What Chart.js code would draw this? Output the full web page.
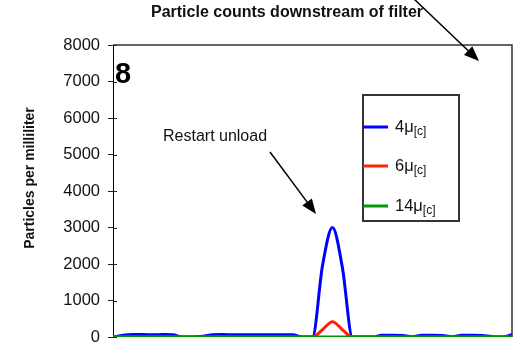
<!DOCTYPE html>
<html>
<head>
<meta charset="utf-8">
<script src="https://cdn.jsdelivr.net/npm/chart.js@4.4.1/dist/chart.umd.min.js"></script>
<style>
  html, body { margin: 0; padding: 0; background: #fff; }
  #wrap { width: 519px; height: 345px; }
</style>
</head>
<body>
<div id="wrap"><canvas id="chart" width="519" height="345"></canvas></div>
<script>
// --- DATA ---
const samples = Array.from({ length: 41 }, (_, i) => i); // sample index along the run
const counts4 = [0, 50, 70, 70, 60, 70, 60, 0, 0, 20,
                 60, 70, 60, 60, 60, 60, 60, 60, 60, 0,
                 0, 1950, 3000, 1900, 0, 0, 0, 50, 50, 40,
                 10, 50, 50, 40, 10, 50, 50, 40, 10, 0, 60];
const counts6 = [0, 0, 0, 0, 0, 0, 0, 0, 0, 0,
                 0, 0, 0, 0, 0, 0, 0, 0, 0, 0,
                 0, 200, 420, 200, 0, 0, 0, 0, 0, 0,
                 0, 0, 0, 0, 0, 0, 0, 0, 0, 0, 0];
const counts14 = samples.map(() => 0);
const seriesNames = ["4\u03bc", "6\u03bc", "14\u03bc"];
const seriesSub = "[c]";
const yTicks = [0, 1000, 2000, 3000, 4000, 5000, 6000, 7000, 8000];

const FONT = "'Liberation Sans', Arial, sans-serif";
const TEXT = "#111";

// --- HELPERS ---
function arrow(ctx, x1, y1, x2, y2) {
  const ang = Math.atan2(y2 - y1, x2 - x1);
  const len = 15, half = 6;
  ctx.save();
  ctx.strokeStyle = "#000";
  ctx.fillStyle = "#000";
  ctx.lineWidth = 1.5;
  ctx.beginPath();
  ctx.moveTo(x1, y1);
  ctx.lineTo(x2 - Math.cos(ang) * len * 0.8, y2 - Math.sin(ang) * len * 0.8);
  ctx.stroke();
  ctx.beginPath();
  ctx.moveTo(x2, y2);
  ctx.lineTo(x2 - Math.cos(ang) * len + Math.sin(ang) * half, y2 - Math.sin(ang) * len - Math.cos(ang) * half);
  ctx.lineTo(x2 - Math.cos(ang) * len - Math.sin(ang) * half, y2 - Math.sin(ang) * len + Math.cos(ang) * half);
  ctx.closePath();
  ctx.fill();
  ctx.restore();
}

// frame, inner ticks, legend box and text notes
const decorations = {
  id: "decorations",
  afterDraw(chart) {
    const { ctx, chartArea: a, scales } = chart;
    ctx.save();

    // top and right frame
    ctx.strokeStyle = "#333";
    ctx.lineWidth = 1.5;
    ctx.beginPath();
    ctx.moveTo(a.left, a.top);
    ctx.lineTo(a.right, a.top);
    ctx.lineTo(a.right, a.bottom);
    ctx.stroke();

    // inner half of the y ticks
    ctx.strokeStyle = "#222";
    ctx.lineWidth = 1;
    yTicks.forEach(v => {
      const y = Math.round(scales.y.getPixelForValue(v)) + 0.5;
      ctx.beginPath();
      ctx.moveTo(a.left, y);
      ctx.lineTo(a.left + 4, y);
      ctx.stroke();
    });

    // title
    ctx.fillStyle = TEXT;
    ctx.font = `bold 16px ${FONT}`;
    ctx.textAlign = "center";
    ctx.textBaseline = "middle";
    ctx.fillText("Particle counts downstream of filter", 287, 13);

    // y axis title
    ctx.save();
    ctx.translate(30, 178);
    ctx.rotate(-Math.PI / 2);
    ctx.font = `bold 14px ${FONT}`;
    ctx.fillText("Particles per milliliter", 0, 0);
    ctx.restore();

    // panel number
    ctx.textAlign = "left";
    ctx.textBaseline = "alphabetic";
    ctx.font = `bold 29px ${FONT}`;
    ctx.fillStyle = "#000";
    ctx.fillText("8", 115, 83);

    // note
    ctx.font = `16px ${FONT}`;
    ctx.fillStyle = TEXT;
    ctx.fillText("Restart unload", 163, 141);

    arrow(ctx, 270, 152, 316, 214);
    arrow(ctx, 413, -2, 479, 61);

    // legend
    const box = { x: 363, y: 95, w: 96, h: 126 };
    ctx.fillStyle = "#fff";
    ctx.fillRect(box.x, box.y, box.w, box.h);
    ctx.strokeStyle = "#333";
    ctx.lineWidth = 2;
    ctx.strokeRect(box.x, box.y, box.w, box.h);
    const rows = [127, 166, 206];
    chart.data.datasets.forEach((ds, i) => {
      const y = rows[i];
      ctx.strokeStyle = ds.borderColor;
      ctx.lineWidth = 3;
      ctx.beginPath();
      ctx.moveTo(box.x, y);
      ctx.lineTo(box.x + 25, y);
      ctx.stroke();
      ctx.fillStyle = TEXT;
      ctx.textBaseline = "middle";
      ctx.font = `16.5px ${FONT}`;
      ctx.fillText(seriesNames[i], box.x + 32, y);
      const w = ctx.measureText(seriesNames[i]).width;
      ctx.font = `12px ${FONT}`;
      ctx.fillText(seriesSub, box.x + 32 + w, y + 5);
    });

    ctx.restore();
  }
};

// --- CHART ---
new Chart(document.getElementById("chart"), {
  type: "line",
  data: {
    labels: samples,
    datasets: [
      { label: "4", data: counts4, borderColor: "#0000ff", order: 2 },
      { label: "6", data: counts6, borderColor: "#ff2200", order: 1 },
      { label: "14", data: counts14, borderColor: "#009900", order: 0 }
    ].map(ds => ({
      ...ds,
      borderWidth: 3,
      pointRadius: 0,
      tension: 0.4,
      cubicInterpolationMode: "monotone",
      fill: false
    }))
  },
  options: {
    responsive: false,
    animation: false,
    layout: { padding: { top: 45, right: 7, bottom: 8, left: 0 } },
    plugins: {
      legend: { display: false },
      title: { display: false },
      tooltip: { enabled: false }
    },
    scales: {
      x: {
        type: "linear",
        min: 0,
        max: samples.length - 1,
        display: false
      },
      y: {
        min: 0,
        max: 8000,
        afterBuildTicks: scale => { scale.ticks = yTicks.map(v => ({ value: v })); },
        afterFit: scale => {
          scale.width = 113;
          scale.paddingTop = 0;
          scale.paddingBottom = 0;
        },
        ticks: {
          color: TEXT,
          padding: 8,
          font: { family: FONT, size: 16.5 },
          callback: v => String(v)
        },
        grid: {
          drawOnChartArea: false,
          drawTicks: true,
          tickLength: 5,
          tickColor: "#222"
        },
        border: { display: true, color: "#000", width: 1 }
      }
    }
  },
  plugins: [decorations]
});
</script>
</body>
</html>
